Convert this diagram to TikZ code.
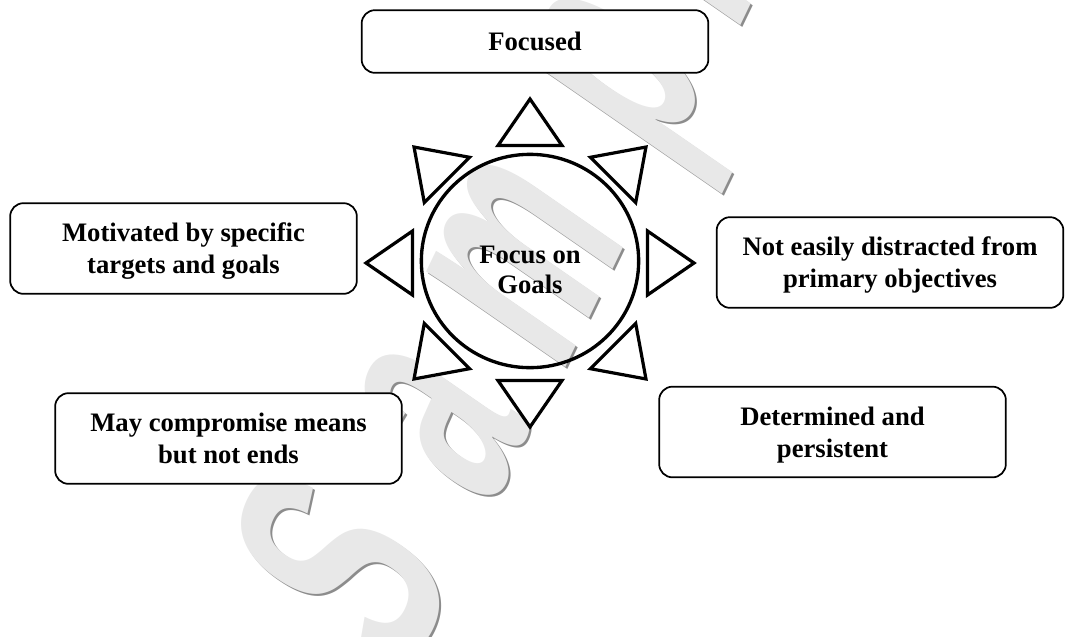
\documentclass[tikz,border=0pt]{standalone}
\usepackage{fontspec}
\setmainfont{Liberation Serif}
\newfontfamily\wmfamily{Liberation Sans}
\usetikzlibrary{shapes.geometric}
\definecolor{wmfill}{gray}{0.91}
\definecolor{wmshadow}{gray}{0.55}
\tikzset{
  box/.style={draw=black, line width=1.3pt, fill=white, rounded corners=10pt,
    minimum width=260pt, minimum height=68pt, align=center, inner sep=0pt, text depth=0pt,
    font=\fontsize{20}{24}\selectfont\bfseries},
  hub/.style={ellipse, draw=black, line width=2.5pt, minimum width=163pt, minimum height=160pt,
    inner sep=0pt},
  hubtext/.style={align=center, font=\fontsize{20}{22.5}\selectfont\bfseries},
  ray/.style={draw=black, fill=white, line width=2.4pt, line join=miter},
  wmletter/.style={transform shape, anchor=base west, inner sep=0pt, outer sep=0pt,
    font=\fontsize{10}{10}\wmfamily\bfseries\selectfont},
  wmcm/.style={cm={5.7,11.85,-19.725,13.65,(0,0)}}
}
\begin{document}
\begin{tikzpicture}[x=0.75pt,y=-0.75pt]
\useasboundingbox (0,0) rectangle (1066,636);
% watermark: shadows
\foreach \lx/\ly/\ch/\nm in {405/680/S/ws, 489/512/a/wa, 560/378/m/wm, 662/167/p/wp, 735/36/l/wl, 775/-45/e/we}{
  \begin{scope}[shift={(\lx+2.5,\ly+2.5)}, wmcm]
    \node[wmletter, text=wmshadow] (\nm s) at (0,0) {\ch};
  \end{scope}
}
\foreach \lx/\ly/\ch/\nm in {405/680/S/ws, 489/512/a/wa, 560/378/m/wm, 662/167/p/wp, 735/36/l/wl, 775/-45/e/we}{
  \begin{scope}[shift={(\lx,\ly)}, wmcm]
    \node[wmletter, text=wmfill] (\nm) at (0,0) {\ch};
  \end{scope}
}
% central circle
\node[hub] (hub) at (530,261) {};
% rays
\foreach \a in {0,45,...,315}{
  \draw[ray, shift={(530,263)}, rotate=\a] (164,0) -- (117.5,32) -- (117.5,-32) -- cycle;
}
\node[hubtext] (hubt) at (530,270) {Focus on\\Goals};
% boxes
\node[box, minimum height=47pt] (focused) at (535,41.5) {Focused};
\node[box] (motivated) at (183.5,248.5) {Motivated by specific\\targets and goals};
\node[box] (compromise) at (228.5,438.5) {May compromise means\\but not ends};
\node[box] (noteasily) at (890,262.5) {Not easily distracted from\\primary objectives};
\node[box] (determined) at (832.5,432) {Determined and\\persistent};
\end{tikzpicture}
\end{document}
